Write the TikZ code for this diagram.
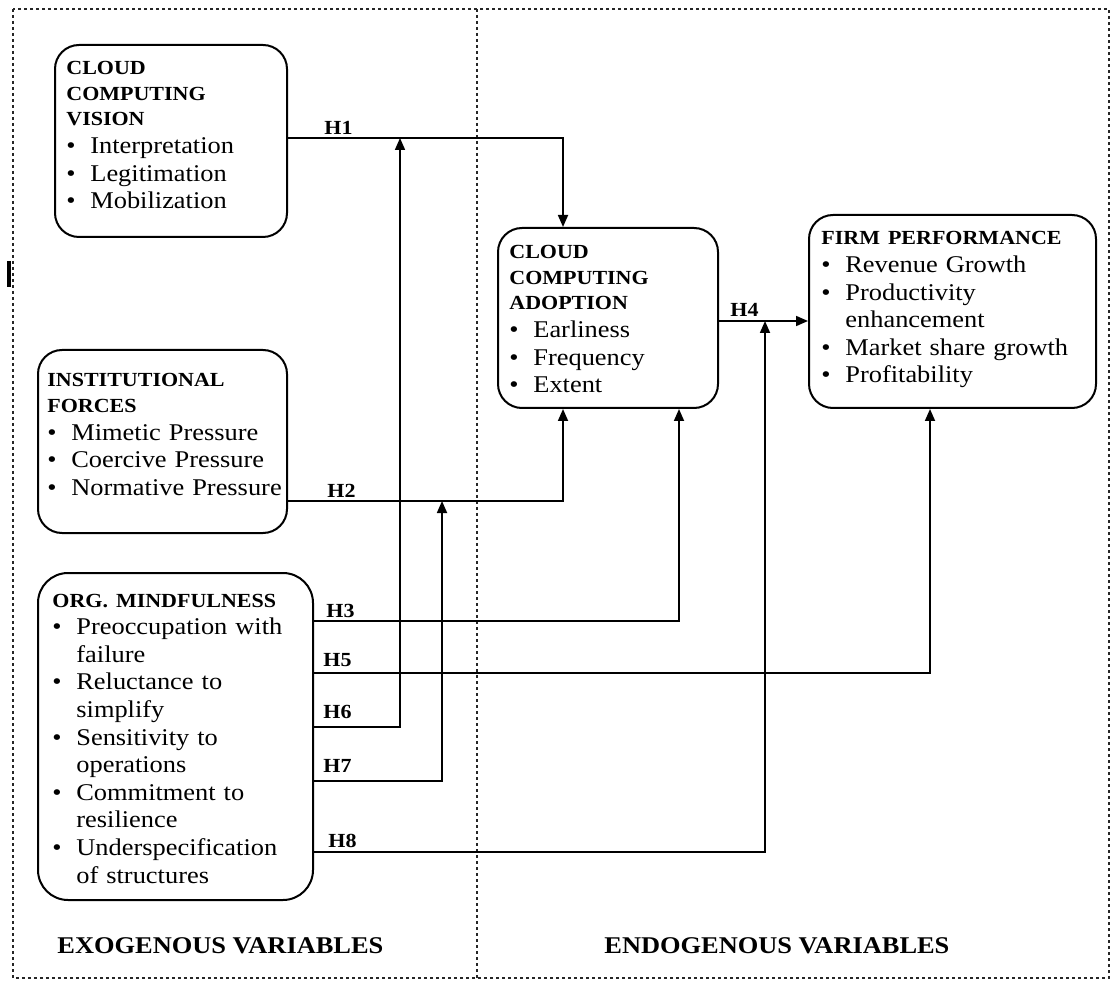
\documentclass[tikz,border=0pt]{standalone}
\usepackage{fontspec}
\setmainfont{Liberation Serif}[FakeStretch=1.1]
\usetikzlibrary{arrows.meta,fit}
% box heading and bullet item
\newcommand{\hd}[1]{{\fontsize{10}{12.75}\selectfont\bfseries #1\par}}
\newcommand{\itm}[1]{\par\hangindent=12pt\hangafter=1\noindent\makebox[12pt][l]{\textbullet}#1\par}
\begin{document}
\begin{tikzpicture}[x=0.5pt,y=-0.5pt,
  frame/.style={line width=1.4pt, dash pattern=on 1.4pt off 1.6pt, draw=black!85},
  box/.style={draw, line width=1pt, rounded corners=12pt, inner sep=0pt},
  txt/.style={anchor=base west, inner sep=0pt, text width=150pt, align=left,
              font=\fontsize{12}{13.8}\selectfont},
  conn/.style={line width=0.85pt, -{Triangle[length=6pt,width=5pt]}},
  hyp/.style={anchor=base west, inner sep=0pt, font=\fontsize{10}{12}\selectfont\bfseries},
  side/.style={anchor=base west, inner sep=0pt, font=\fontsize{12}{14}\selectfont\bfseries}]
\useasboundingbox (0,0) rectangle (1112,983);
\fill[white] (0,0) rectangle (1112,983);

% dotted frame split into two panels
\draw[frame] (13,9) rectangle (1109,978);
\draw[frame] (477,9) -- (477,978);
\draw[line width=1.6pt] (9,261) -- (9,287);

% construct boxes
\node[box, fit={(55,45) (287,237)}] (vis) {};
\node[box, fit={(38,350) (287,533)}] (inst) {};
\node[box, fit={(38,573) (313,900)}, rounded corners=15pt] (mind) {};
\node[box, fit={(498,228) (718,408)}] (adopt) {};
\node[box, fit={(809,215) (1096,408)}] (perf) {};

\node[txt] (vist) at (66,75) {\hd{CLOUD\newline COMPUTING\newline VISION}%
  \itm{Interpretation}\itm{Legitimation}\itm{Mobilization}};
\node[txt] (instt) at (47,387) {\hd{INSTITUTIONAL\newline FORCES}%
  \itm{Mimetic Pressure}\itm{Coercive Pressure}\itm{Normative Pressure}};
\node[txt] (mindt) at (52,607) {\hd{ORG. MINDFULNESS}%
  \itm{Preoccupation with\newline failure}\itm{Reluctance to\newline simplify}%
  \itm{Sensitivity to\newline operations}\itm{Commitment to\newline resilience}%
  \itm{Underspecification\newline of structures}};
\node[txt] (adoptt) at (509,259) {\hd{CLOUD\newline COMPUTING\newline ADOPTION}%
  \itm{Earliness}\itm{Frequency}\itm{Extent}};
\node[txt] (perft) at (821,245) {\hd{FIRM PERFORMANCE}%
  \itm{Revenue Growth}\itm{Productivity\newline enhancement}%
  \itm{Market share growth}\itm{Profitability}};

% routing points of the hypothesis paths
\coordinate (h1) at (563,138);
\coordinate (h2) at (563,501);
\coordinate (h3) at (679,621);
\coordinate (h4) at (745,321);
\coordinate (h5) at (930,673);
\coordinate (h6) at (400,727);
\coordinate (h7) at (442,781);
\coordinate (h8) at (765,852);

\draw[conn] (vis.east |- h1) -| (adopt.north -| h1);
\draw[conn] (inst.east |- h2) -| (adopt.south -| h2);
\draw[conn] (mind.east |- h3) -| (adopt.south -| h3);
\draw[conn] (adopt.east |- h4) -- (perf.west |- h4);
\draw[conn] (mind.east |- h5) -| (perf.south -| h5);
\draw[conn] (mind.east |- h6) -| (h6 |- h1);
\draw[conn] (mind.east |- h7) -| (h7 |- h2);
\draw[conn] (mind.east |- h8) -| (h8 |- h4);

% hypothesis labels
\node[hyp] (l1) at (324,135) {H1};
\node[hyp] (l2) at (327,497) {H2};
\node[hyp] (l3) at (326,617) {H3};
\node[hyp] (l4) at (730,317) {H4};
\node[hyp] (l5) at (323,666) {H5};
\node[hyp] (l6) at (323,718) {H6};
\node[hyp] (l7) at (323,772) {H7};
\node[hyp] (l8) at (328,847) {H8};

% panel captions
\node[side] (exo) at (57,953) {EXOGENOUS VARIABLES};
\node[side] (endo) at (604,953) {ENDOGENOUS VARIABLES};
\end{tikzpicture}
\end{document}
